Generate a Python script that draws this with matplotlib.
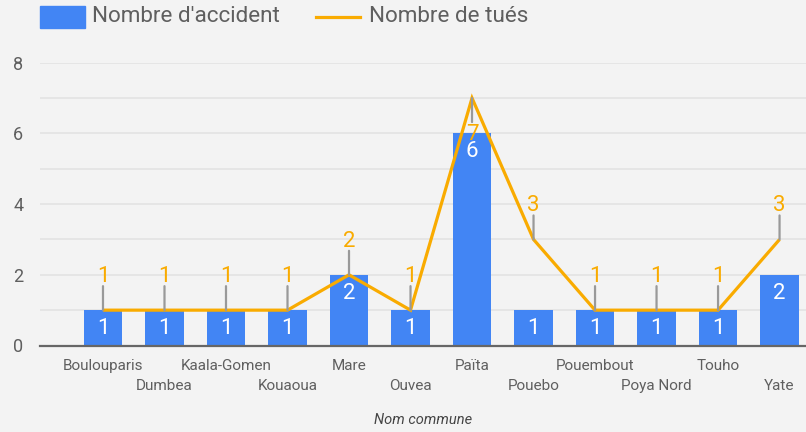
import numpy as np
import matplotlib
matplotlib.use('Agg')
import matplotlib.pyplot as plt
from matplotlib.patches import Rectangle
from matplotlib.lines import Line2D

# ---- data ----
communes = ["Boulouparis", "Dumbea", "Kaala-Gomen", "Kouaoua", "Mare", "Ouvea",
            "Païta", "Pouebo", "Pouembout", "Poya Nord", "Touho", "Yate"]
accidents = [1, 1, 1, 1, 2, 1, 6, 1, 1, 1, 1, 2]
tues = [1, 1, 1, 1, 2, 1, 7, 3, 1, 1, 1, 3]
series_names = ["Nombre d'accident", "Nombre de tués"]
y_ticks = [0, 2, 4, 6, 8]
x_title = "Nom commune"

# ---- style ----
BG = '#f3f3f3'
BLUE = '#4285f4'
ORANGE = '#f9ab00'
GRID = '#e4e4e4'
TEXT = '#5f5f5f'
STEM = '#999999'

plt.rcParams['font.family'] = ['Roboto', 'DejaVu Sans']

W, H = 806, 432
fig = plt.figure(figsize=(W / 100, H / 100), dpi=100, facecolor=BG)

left_px, right_px, top_px, bottom_px = 40, 806, 62.7, 345.5
ax = fig.add_axes([left_px / W, 1 - bottom_px / H,
                   (right_px - left_px) / W, (bottom_px - top_px) / H])
ax.set_facecolor(BG)

x = np.arange(len(communes))
ax.set_xlim(-1.024, 11.43)
ax.set_ylim(0, 8)

for gy in range(1, 9):
    ax.axhline(gy, color=GRID, lw=1.3, zorder=0)

for s in ['top', 'right', 'left']:
    ax.spines[s].set_visible(False)
ax.spines['bottom'].set_color('#666666')
ax.spines['bottom'].set_linewidth(1.6)
ax.spines['bottom'].set_zorder(5)

ax.bar(x, accidents, width=0.63, color=BLUE, zorder=2)
ax.plot(x, tues, color=ORANGE, lw=2.3, zorder=3, solid_joinstyle='miter',
        solid_capstyle='butt')

# bar labels
for xi, v in zip(x, accidents):
    ax.annotate(str(v), xy=(xi, v), xytext=(0, -24), textcoords='offset pixels',
                ha='center', va='baseline', color='white', fontsize=16, zorder=4)

# line labels with stems
ymax = ax.get_ylim()[1]
for xi, v in zip(x, tues):
    flip = v > ymax - 1.5
    sgn = -1 if flip else 1
    ax.annotate('', xy=(xi, v), xytext=(0, 24 * sgn), textcoords='offset pixels',
                arrowprops=dict(arrowstyle='-', color=STEM, lw=1.6,
                                shrinkA=0, shrinkB=0), zorder=4)
    off = -42 if flip else 28
    ax.annotate(str(v), xy=(xi, v), xytext=(0, off), textcoords='offset pixels',
                ha='center', va='baseline', color=ORANGE, fontsize=16, zorder=4)

# ticks
ax.set_yticks(y_ticks)
ax.set_yticklabels([str(t) for t in y_ticks])
ax.tick_params(axis='y', length=0, pad=12, labelsize=13, labelcolor=TEXT)
ax.set_xticks(x)
ax.set_xticklabels(communes)
ax.tick_params(axis='x', length=0, pad=10, labelsize=11, labelcolor=TEXT)
ax_h_px = bottom_px - top_px
for i, lbl in enumerate(ax.get_xticklabels()):
    if i % 2 == 1:
        lbl.set_y(-20 / ax_h_px)

fig.text(((left_px + right_px) / 2) / W, 1 - 420 / H, x_title, ha='center', va='center',
         fontsize=10.5, style='italic', color='#444444')

# legend
fig.patches.append(Rectangle((40 / W, 1 - 28 / H), 45 / W, 22 / H,
                             transform=fig.transFigure, color=BLUE))
fig.text(92 / W, 1 - 17 / H, series_names[0], ha='left', va='center',
         fontsize=16.2, color=TEXT)
fig.lines.append(Line2D([316 / W, 360 / W], [1 - 16.5 / H, 1 - 16.5 / H],
                        transform=fig.transFigure, color=ORANGE, lw=2.3))
fig.text(369 / W, 1 - 17 / H, series_names[1], ha='left', va='center',
         fontsize=16.2, color=TEXT)

fig.savefig('out.png', dpi=100, facecolor=BG)
